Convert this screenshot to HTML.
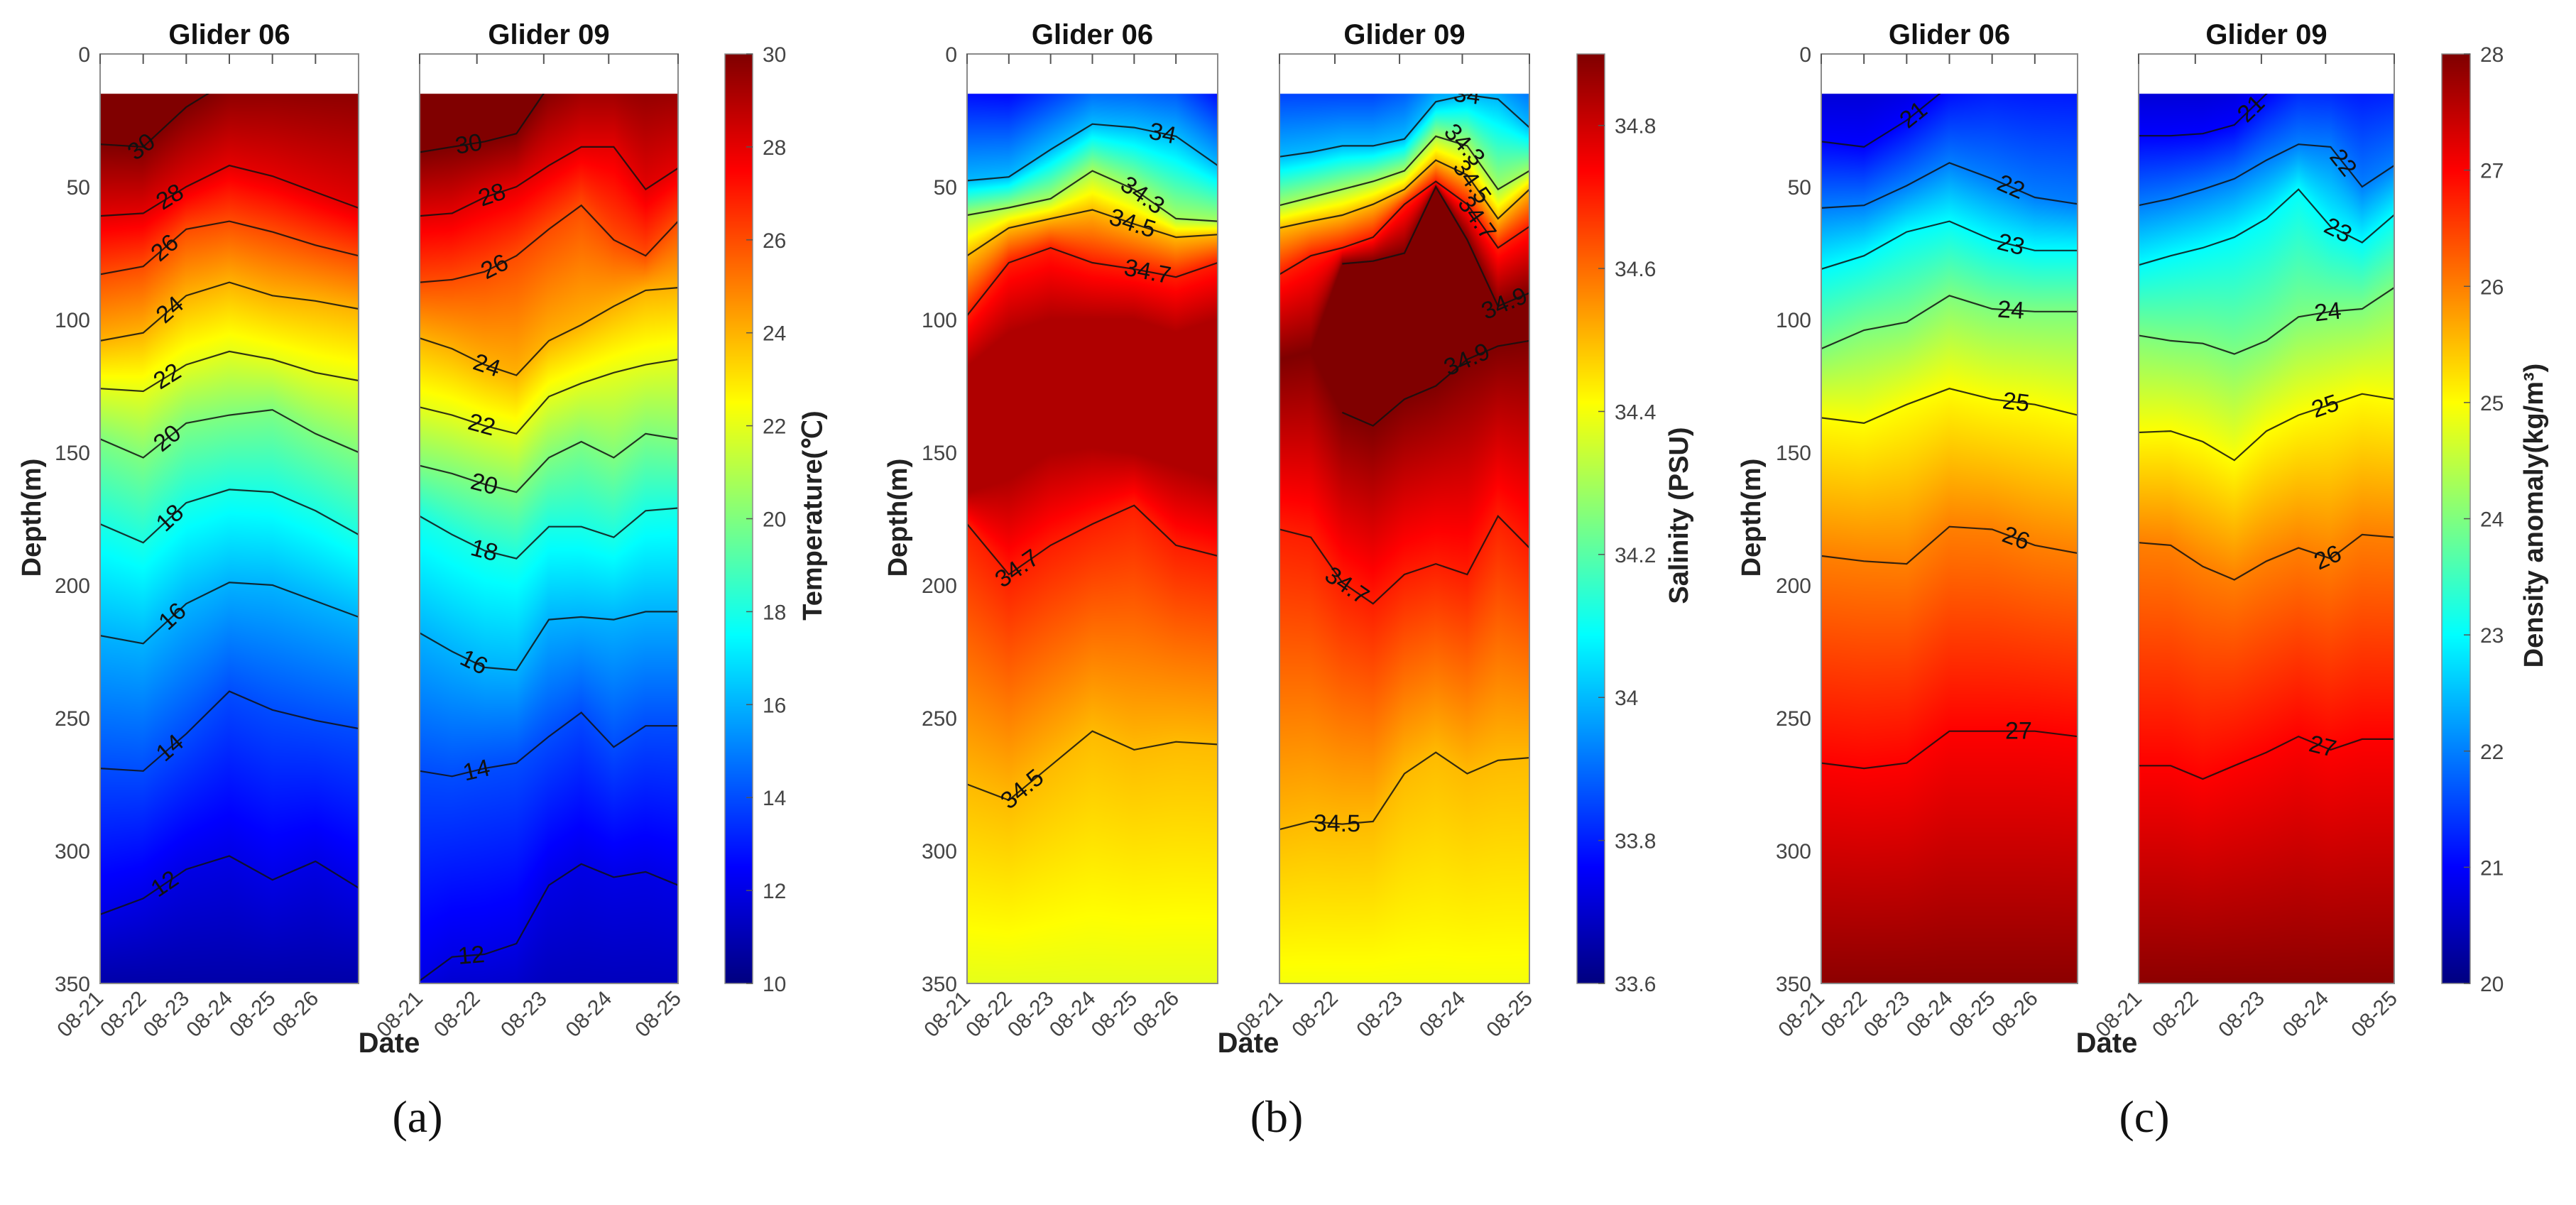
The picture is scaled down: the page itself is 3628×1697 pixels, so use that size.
<!DOCTYPE html>
<html><head><meta charset="utf-8">
<style>
html,body{margin:0;padding:0;background:#fff;}
#wrap{position:relative;width:3628px;height:1697px;overflow:hidden;background:#fff;}
#field{position:absolute;left:0;top:0;}
#ov{position:absolute;left:0;top:0;}
text{font-family:"Liberation Sans",Arial,sans-serif;}
</style></head>
<body>
<div id="wrap">
<canvas id="field" width="3628" height="1697"></canvas>
<svg id="ov" width="3628" height="1697" xmlns="http://www.w3.org/2000/svg"></svg>
</div>
<script>
// ---------- data ----------
const g06Days = [0,1,2,3,4,5,6];
const g09Days = [0,0.51,1.02,1.52,2.03,2.54,3.05,3.55,4.06];
const g06TickDays = [0,1,2,3,4,5];
const g06TickLabels = ["08-21","08-22","08-23","08-24","08-25","08-26"];
const g09TickDays = [0,0.9,1.95,2.97,4.06];
const g09TickLabels = ["08-21","08-22","08-23","08-24","08-25"];
const depthTicks = [0,50,100,150,200,250,300,350];
const tempCbTicks = [10,12,14,16,18,20,22,24,26,28,30];
const salCbTicks = [33.6,33.8,34,34.2,34.4,34.6,34.8];
const denCbTicks = [20,21,22,23,24,25,26,27,28];

// Temperature Glider 06 (isotherm depths, m)
const t06_31=[0,0,-10,-10,-10,-10,-10];
const t06_30=[34,35,20,10,8,8,8];
const t06_28=[61,60,50,42,46,52,58];
const t06_26=[83,80,66,63,67,72,76];
const t06_24=[108,105,91,86,91,93,96];
const t06_22=[126,127,117,112,115,120,123];
const t06_20=[145,152,139,136,134,143,150];
const t06_18=[177,184,169,164,165,172,181];
const t06_16=[219,222,207,199,200,206,212];
const t06_14=[269,270,256,240,247,251,254];
const t06_12=[324,318,307,302,311,304,314];
const t06_11=[350,350,350,350,350,350,350];
// Temperature Glider 09
const t09_31=[0,0,0,0,-10,-10,-10,-10,-10];
const t09_30=[37,35,33,30,12,5,5,5,5];
const t09_28=[61,60,54,50,42,35,35,51,43];
const t09_26=[86,85,82,76,66,57,70,76,63];
const t09_24=[107,111,117,121,108,102,95,89,88];
const t09_22=[133,136,140,143,129,124,120,117,115];
const t09_20=[155,158,162,165,152,146,152,143,145];
const t09_18=[174,181,187,190,178,178,182,172,171];
const t09_16=[218,225,231,232,213,212,213,210,210];
const t09_14=[270,272,269,267,257,248,261,253,253];
const t09_12=[349,340,339,335,313,305,310,308,313];
const t09_11=[365,365,365,365,360,360,360,360,360];
// Salinity Glider 06
const s06_338=[15,16,8,0,0,2,15];
const s06_340=[47.7,46.3,36,26.4,27.7,31,42];
const s06_343=[60.7,57.9,54.5,44,51,62,63];
const s06_345=[76,65.5,62,58.7,64,69,68];
const s06_347=[98.5,78.6,73,78.6,81,84,78.6];
const s06_core1=[118,105,100,100,100,105,100];
const s06_core2=[165,160,150,148,150,155,160];
const s06_347b=[177,196,185,177,170,185,189];
const s06_345b=[275,281,268,255,262,259,260];
const s06_bot=[350,350,350,350,350,350,350];
// Salinity Glider 09
const s09_3385=[15,15,15,15,10,0,0,0,5];
const s09_340=[38.7,37,34.6,34.6,32,18,15.4,17,27.7];
const s09_343=[57,54,51,48,44,31,34.6,51,44];
const s09_345=[65.5,63,60.7,56.6,51,40,45.6,62,51];
const s09_347=[83,76,73,69,56.6,48,56.6,73,65];
const s09_349a=[115,112,79,78,75,50,70,95,90];
const s09_349b=[115,112,135,140,130,125,115,110,108];
const s09_347b=[179,182,199,207,196,192,196,174,186];
const s09_345b=[292,289,290,289,271,263,271,266,265];
const s09_bot=[350,350,350,350,350,350,350,350,350];
// Density Glider 06
const d06_207=[15,15,10,0,0,0,0];
const d06_21=[33,35,25,12,5,5,5];
const d06_22=[58,57,49.6,41,47,54,56.5];
const d06_23=[81,76,67,63,70,74,74];
const d06_24=[111,104,101,91,96,97,97];
const d06_25=[137,139,132,126,130,132,136];
const d06_26=[189,191,192,178,179,185,188];
const d06_27=[267,269,267,255,255,255,257];
const d06_279=[350,350,350,350,350,350,350];
// Density Glider 09
const d09_207=[15,15,15,12,0,0,0,0,0];
const d09_21=[30.8,30.8,30,26.7,15,5,5,5,5];
const d09_22=[57,54.5,51,47,40,34,35,50,42];
const d09_23=[79.5,76,73,69,62,51,65,71,60.6];
const d09_24=[106,108,109,113,108,99,97,96,88];
const d09_25=[142.5,142,146,153,142,136,132,128,130];
const d09_26=[184,185,193,198,191,186,190,181,182];
const d09_27=[268,268,273,268,263,257,262,258,258];
const d09_279=[350,350,350,350,350,350,350,350,350];

// ---------- layout ----------
const Y0=76, YDATA=132, YB=1385, DMAX=350;
function yOf(d){return Y0+(YB-Y0)*d/DMAX;}
function jet(t){t=Math.max(0,Math.min(1,t));
 const c=v=>Math.max(0,Math.min(1,v));
 return [c(1.5-Math.abs(4*t-3)),c(1.5-Math.abs(4*t-2)),c(1.5-Math.abs(4*t-1))];}

const fields=[
 {name:'temperature',vmin:10,vmax:30,x06:[141,505],x09:[591,955],cb:[1021,1060],cbTicks:tempCbTicks,cbLabel:'Temperature(℃)',cbLabelX:1145,ylabX:45,dateX:548,tag:'(a)',tagX:588,
  g06:[[31,t06_31,0],[30,t06_30,.16,'30'],[28,t06_28,.27,'28'],[26,t06_26,.25,'26'],[24,t06_24,.27,'24'],[22,t06_22,.26,'22'],[20,t06_20,.26,'20'],[18,t06_18,.27,'18'],[16,t06_16,.28,'16'],[14,t06_14,.27,'14'],[12,t06_12,.25,'12'],[10.8,t06_11,0]],
  g09:[[31,t09_31,0],[30,t09_30,.19,'30'],[28,t09_28,.28,'28'],[26,t09_26,.29,'26'],[24,t09_24,.26,'24'],[22,t09_22,.24,'22'],[20,t09_20,.25,'20'],[18,t09_18,.25,'18'],[16,t09_16,.21,'16'],[14,t09_14,.22,'14'],[12,t09_12,.2,'12'],[11,t09_11,0]]},
 {name:'salinity',vmin:33.6,vmax:34.9,x06:[1362,1715],x09:[1802,2154],cb:[2221,2260],cbTicks:salCbTicks,cbLabel:'Salinity (PSU)',cbLabelX:2365,ylabX:1265,dateX:1758,tag:'(b)',tagX:1798,
  g06:[[33.78,s06_338,0],[34,s06_340,.78,'34'],[34.3,s06_343,.70,'34.3'],[34.5,s06_345,.66,'34.5'],[34.7,s06_347,.72,'34.7'],[34.84,s06_core1,0],[34.84,s06_core2,0],[34.7,s06_347b,.2,'34.7'],[34.5,s06_345b,.22,'34.5'],[34.38,s06_bot,0]],
  g09:[[33.85,s09_3385,0],[34,s09_340,.75,'34'],[34.3,s09_343,.74,'34.3'],[34.5,s09_345,.77,'34.5'],[34.7,s09_347,.79,'34.7'],[34.9,s09_349a,.9,'34.9',2],[34.9,s09_349b,.75,'34.9',2],[34.7,s09_347b,.27,'34.7'],[34.5,s09_345b,.23,'34.5'],[34.4,s09_bot,0]]},
 {name:'density',vmin:20,vmax:28,x06:[2565,2926],x09:[3012,3372],cb:[3439,3479],cbTicks:denCbTicks,cbLabel:'Density anomaly(kg/m³)',cbLabelX:3569,ylabX:2467,dateX:2967,tag:'(c)',tagX:3020,
  g06:[[20.7,d06_207,0],[21,d06_21,.36,'21'],[22,d06_22,.74,'22'],[23,d06_23,.74,'23'],[24,d06_24,.74,'24'],[25,d06_25,.76,'25'],[26,d06_26,.76,'26'],[27,d06_27,.77,'27'],[27.9,d06_279,0]],
  g09:[[20.7,d09_207,0],[21,d09_21,.44,'21'],[22,d09_22,.8,'22'],[23,d09_23,.78,'23'],[24,d09_24,.74,'24'],[25,d09_25,.73,'25'],[26,d09_26,.74,'26'],[27,d09_27,.72,'27'],[27.9,d09_279,0]]}
];

const svg=document.getElementById('ov');
const NS='http://www.w3.org/2000/svg';
function mk(tag,attrs,parent){const e=document.createElementNS(NS,tag);for(const k in attrs)e.setAttribute(k,attrs[k]);(parent||svg).appendChild(e);return e;}
function interp(xs,ys,x){if(x<=xs[0])return ys[0];for(let i=1;i<xs.length;i++){if(x<=xs[i]){const f=(x-xs[i-1])/(xs[i]-xs[i-1]);return ys[i-1]+f*(ys[i]-ys[i-1]);}}return ys[ys.length-1];}

const ctx=document.getElementById('field').getContext('2d');
const img=ctx.createImageData(3628,1697);
function paint(x0,x1,days,knots,vmin,vmax){
 const dmax=days[days.length-1];
 for(let px=x0;px<x1;px++){
  const day=(px+0.5-x0)/(x1-x0)*dmax;
  const ks=knots.map(k=>[interp(days,k[1],day),k[0]]).sort((a,b)=>a[0]-b[0]);
  for(let py=YDATA;py<YB;py++){
   const d=(py+0.5-Y0)/(YB-Y0)*DMAX;
   let v;
   if(d<=ks[0][0])v=ks[0][1];else if(d>=ks[ks.length-1][0])v=ks[ks.length-1][1];
   else{for(let i=1;i<ks.length;i++){if(d<=ks[i][0]){const s=ks[i][0]-ks[i-1][0];const f=s>0?(d-ks[i-1][0])/s:1;v=ks[i-1][1]+f*(ks[i][1]-ks[i-1][1]);break;}}}
   const c=jet((v-vmin)/(vmax-vmin));const o=(py*3628+px)*4;
   img.data[o]=c[0]*255;img.data[o+1]=c[1]*255;img.data[o+2]=c[2]*255;img.data[o+3]=255;
  }
 }
}

let clipId=0;
function panel(F,which,x0,x1,days,knots,ticks,tickLabels){
 paint(x0,x1,days,knots,F.vmin,F.vmax);
 const g=mk('g',{});
 
 
 const dmax=days[days.length-1];
 const xOf=day=>x0+(x1-x0)*day/dmax;
 const cid='clip'+(clipId++);
 const cp=mk('clipPath',{id:cid},g);mk('rect',{x:x0,y:YDATA,width:x1-x0,height:YB-YDATA},cp);
 const cg=mk('g',{'clip-path':'url(#'+cid+')'},g);
 knots.forEach(k=>{
  if(!k[3])return;
  const st=k[4]||0;
  let pts=[];for(let i=st;i<days.length;i++)pts.push(xOf(days[i]).toFixed(1)+','+yOf(k[1][i]).toFixed(1));
  const pl=mk('polyline',{points:pts.join(' '),fill:'none',stroke:'#111','stroke-width':2.2,'stroke-opacity':0.85},cg);
  
  
  const day=k[2]*dmax;const lx=xOf(day);const ly=yOf(interp(days,k[1],day));
  const ly2=yOf(interp(days,k[1],day+dmax*0.04));const lx2=xOf(day+dmax*0.04);
  const ang=Math.atan2(ly2-ly,lx2-lx)*180/Math.PI;
  const t=mk('text',{x:lx,y:ly,'font-size':34,'text-anchor':'middle','dominant-baseline':'central',fill:'#111',transform:'rotate('+ang.toFixed(1)+' '+lx.toFixed(1)+' '+ly.toFixed(1)+')'},cg);
  t.textContent=k[3];
  
  
 });
 const fr=mk('rect',{x:x0,y:Y0,width:x1-x0,height:YB-Y0,fill:'none',stroke:'#8a8a8a','stroke-width':2},g);
 
 
 ticks.forEach((d,i)=>{
  const x=xOf(d);
  mk('line',{x1:x,x2:x,y1:Y0,y2:Y0+14,stroke:'#555','stroke-width':2},g);
  const t=mk('text',{x:x+6,y:1408,'font-size':30,'text-anchor':'end',fill:'#444',transform:'rotate(-45 '+(x+6)+' 1408)'},g);
  t.textContent=tickLabels[i];
  
  
 });
 const ti=mk('text',{x:(x0+x1)/2,y:62,'font-size':40,'font-weight':'bold','text-anchor':'middle',fill:'#111'},g);
 ti.textContent=which==='g06'?'Glider 06':'Glider 09';
 
 
}

fields.forEach(F=>{
 panel(F,'g06',F.x06[0],F.x06[1],g06Days,F.g06,g06TickDays,g06TickLabels);
 panel(F,'g09',F.x09[0],F.x09[1],g09Days,F.g09,g09TickDays,g09TickLabels);
 depthTicks.forEach(d=>{
  const t=mk('text',{x:F.x06[0]-14,y:yOf(d)+11,'font-size':30,'text-anchor':'end',fill:'#444'});
  t.textContent=d;
  
  
 });
 const yl=mk('text',{x:F.ylabX,y:729,'font-size':38,'font-weight':'bold','text-anchor':'middle','dominant-baseline':'central',fill:'#222',transform:'rotate(-90 '+F.ylabX+' 729)'});
 yl.textContent='Depth(m)';
 
 
 const dl=mk('text',{x:F.dateX,y:1482,'font-size':40,'font-weight':'bold','text-anchor':'middle',fill:'#222'});
 dl.textContent='Date';
 
 
 const [c0,c1]=F.cb;
 for(let py=Y0;py<YB;py++){
  const c=jet((YB-py-0.5)/(YB-Y0));
  for(let px=c0;px<c1;px++){const o=(py*3628+px)*4;img.data[o]=c[0]*255;img.data[o+1]=c[1]*255;img.data[o+2]=c[2]*255;img.data[o+3]=255;}
 }
 const cb=mk('rect',{x:c0,y:Y0,width:c1-c0,height:YB-Y0,fill:'none',stroke:'#8a8a8a','stroke-width':1.5});
 
 
 F.cbTicks.forEach(v=>{
  const y=YB-(v-F.vmin)/(F.vmax-F.vmin)*(YB-Y0);
  mk('line',{x1:c1-9,x2:c1,y1:y,y2:y,stroke:'#555','stroke-width':1.5});
  const t=mk('text',{x:c1+14,y:y+11,'font-size':30,fill:'#444'});
  t.textContent=String(v);
  
  
 });
 const cl=mk('text',{x:F.cbLabelX,y:726,'font-size':38,'font-weight':'bold','text-anchor':'middle','dominant-baseline':'central',fill:'#222',transform:'rotate(-90 '+F.cbLabelX+' 726)'});
 cl.textContent=F.cbLabel;
 
 
 const tg=mk('text',{x:F.tagX,y:1594,'font-size':64,'text-anchor':'middle',fill:'#111',style:'font-family:"Liberation Serif",serif'});
 tg.textContent=F.tag;
 
 
});
ctx.putImageData(img,0,0);
</script>
</body></html>
